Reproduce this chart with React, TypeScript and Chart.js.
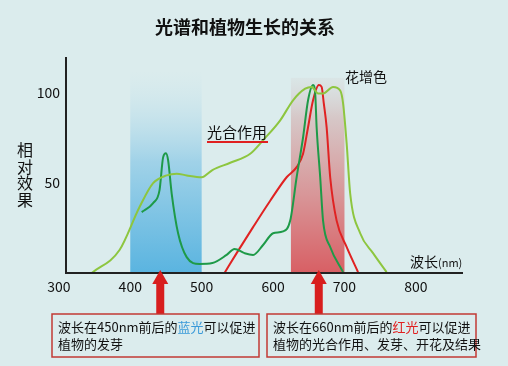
import React, { useEffect, useRef } from 'react';
import { Chart, registerables } from 'chart.js';

Chart.register(...registerables);

const FONT = '"Noto Sans CJK SC", "Noto Sans", sans-serif';

// ---- data ----
const TITLE = '光谱和植物生长的关系';
const xTicks = [300, 400, 500, 600, 700, 800];
const yTicks = [50, 100];

const lightGreenNm = [346, 385, 413, 432, 451, 465, 479, 500, 515, 540, 568, 586, 610, 628, 645, 654, 663, 670, 684, 694, 698, 703, 708, 722, 740, 759];
const lightGreenVal = [0, 12.7, 36.5, 49.7, 54, 55, 54, 53, 57, 61, 66, 73.5, 84.5, 95.6, 102, 103, 99.4, 99.4, 103, 101, 94, 72, 44, 22, 11, 0.5];

const darkGreenNm = [416, 432, 441, 446, 450, 453, 458, 467, 479, 497, 515, 535, 546, 560, 572, 586, 600, 614, 624, 633, 642, 649, 656, 659, 661, 666, 670, 680, 698];
const darkGreenVal = [33.7, 38.7, 45.9, 64, 66.3, 62.4, 44, 22, 8.8, 5, 5.5, 10, 13.3, 11, 10, 15.5, 22, 23, 29, 53, 75, 95.6, 104, 99.4, 80.7, 53, 29, 14.4, 0.5];

const redNm = [532, 549, 572, 596, 619, 633, 642, 649, 656, 664, 668, 671, 675, 680, 689, 703, 719];
const redVal = [0, 11, 25.4, 40, 53, 58.6, 66, 80.7, 95.6, 104, 103, 94, 80.7, 53, 29, 14.4, 0.5];

const blueBand = [400, 500];
const redBand = [625, 700];
const arrowNm = [442, 664];

const BG = '#dbeced';

function pts(xs: number[], ys: number[]) {
  return xs.map((x, i) => ({ x, y: ys[i] }));
}

const decor = {
  id: 'decor',
  beforeDraw(chart: any) {
    const { ctx, width, height } = chart;
    ctx.save();
    ctx.fillStyle = BG;
    ctx.fillRect(0, 0, width, height);
    ctx.restore();
  },
  beforeDatasetsDraw(chart: any) {
    const { ctx, scales } = chart;
    const xs = scales.x, ys = scales.y;
    const bottom = ys.getPixelForValue(0);
    ctx.save();
    // blue band
    let l = xs.getPixelForValue(blueBand[0]);
    let r = xs.getPixelForValue(blueBand[1]);
    let top = ys.getPixelForValue(112);
    let g = ctx.createLinearGradient(0, top, 0, bottom);
    g.addColorStop(0, 'rgba(200,228,236,0)');
    g.addColorStop(0.45, 'rgba(160,210,232,1)');
    g.addColorStop(1, 'rgba(90,180,224,1)');
    ctx.fillStyle = g;
    ctx.fillRect(l, top, r - l, bottom - top);
    // red band
    l = xs.getPixelForValue(redBand[0]);
    r = xs.getPixelForValue(redBand[1]);
    top = ys.getPixelForValue(108);
    g = ctx.createLinearGradient(0, top, 0, bottom);
    g.addColorStop(0, 'rgba(215,215,215,0.3)');
    g.addColorStop(0.2, 'rgba(214,200,200,1)');
    g.addColorStop(0.6, 'rgba(216,150,152,1)');
    g.addColorStop(1, 'rgba(216,95,100,1)');
    ctx.fillStyle = g;
    ctx.fillRect(l, top, r - l, bottom - top);
    ctx.restore();
  },
  afterDatasetsDraw(chart: any) {
    const { ctx, scales, chartArea } = chart;
    const xs = scales.x, ys = scales.y;
    const y0 = ys.getPixelForValue(0);
    ctx.save();
    // axes
    ctx.strokeStyle = '#222';
    ctx.lineWidth = 2;
    ctx.beginPath();
    ctx.moveTo(chartArea.left, chartArea.top - 1);
    ctx.lineTo(chartArea.left, y0);
    ctx.lineTo(chartArea.right, y0);
    ctx.stroke();

    // tick labels
    ctx.fillStyle = '#111';
    ctx.font = `14px ${FONT}`;
    ctx.textAlign = 'center';
    ctx.textBaseline = 'middle';
    xTicks.forEach((t) => {
      ctx.fillText(String(t), xs.getPixelForValue(t), y0 + 14);
    });
    ctx.textAlign = 'right';
    yTicks.forEach((t) => {
      ctx.fillText(String(t), chartArea.left - 6, ys.getPixelForValue(t));
    });

    // y axis title (vertical stacked)
    ctx.font = `16px ${FONT}`;
    ctx.textAlign = 'center';
    ['相', '对', '效', '果'].forEach((c, i) => {
      ctx.fillText(c, 25, 150 + i * 16.5);
    });

    // x axis unit
    ctx.textAlign = 'left';
    ctx.font = `14px ${FONT}`;
    ctx.fillText('波长', 410, 262);
    const w = ctx.measureText('波长').width;
    ctx.font = `11px ${FONT}`;
    ctx.fillText('(nm)', 410 + w, 263);

    // title
    ctx.textAlign = 'center';
    ctx.font = `bold 18px ${FONT}`;
    ctx.fillText(TITLE, 245, 27);

    // curve labels
    ctx.font = `14px ${FONT}`;
    ctx.textAlign = 'left';
    ctx.fillText('花增色', 345, 77);
    ctx.font = `15px ${FONT}`;
    ctx.fillText('光合作用', 207, 132);
    ctx.strokeStyle = '#e02020';
    ctx.lineWidth = 2;
    ctx.beginPath();
    ctx.moveTo(207, 142);
    ctx.lineTo(268, 142);
    ctx.stroke();

    // arrows
    ctx.fillStyle = '#d81e1e';
    arrowNm.forEach((nm) => {
      const cx = xs.getPixelForValue(nm);
      ctx.beginPath();
      ctx.moveTo(cx, y0 - 3);
      ctx.lineTo(cx - 8, y0 + 11);
      ctx.lineTo(cx + 8, y0 + 11);
      ctx.closePath();
      ctx.fill();
      ctx.fillRect(cx - 4, y0 + 10, 8, 314 - (y0 + 10));
    });

    // boxes
    const boxes = [
      { x: 52, w: 207, lines: [[['波长在450nm前后的', '#111'], ['蓝光', '#3a9ad9'], ['可以促进', '#111']], [['植物的发芽', '#111']]] },
      { x: 267, w: 209, lines: [[['波长在660nm前后的', '#111'], ['红光', '#e02020'], ['可以促进', '#111']], [['植物的光合作用、发芽、开花及结果', '#111']]] },
    ];
    ctx.font = `13px ${FONT}`;
    ctx.textAlign = 'left';
    boxes.forEach((b) => {
      ctx.strokeStyle = '#c23a34';
      ctx.lineWidth = 1.5;
      ctx.strokeRect(b.x, 314, b.w, 43);
      b.lines.forEach((line, li) => {
        let x = b.x + 6;
        const y = 327 + li * 17;
        line.forEach(([txt, col]) => {
          ctx.fillStyle = col;
          ctx.fillText(txt, x, y);
          x += ctx.measureText(txt).width;
        });
      });
    });
    ctx.restore();
  },
};

export default function App() {
  const ref = useRef<HTMLCanvasElement | null>(null);
  useEffect(() => {
    if (!ref.current) return;
    const common = {
      showLine: true,
      pointRadius: 0,
      borderWidth: 2,
      cubicInterpolationMode: 'monotone' as const,
      fill: false,
    };
    const chart = new Chart(ref.current, {
      type: 'scatter',
      data: {
        datasets: [
          { ...common, label: '花增色', data: pts(lightGreenNm, lightGreenVal), borderColor: '#8dc63f' },
          { ...common, label: '叶绿素', data: pts(darkGreenNm, darkGreenVal), borderColor: '#1e9a48' },
          { ...common, label: '光合作用', data: pts(redNm, redVal), borderColor: '#e02222' },
        ],
      },
      options: {
        animation: false,
        responsive: true,
        maintainAspectRatio: false,
        layout: { padding: { left: 66, right: 45, top: 58, bottom: 93 } },
        plugins: { legend: { display: false }, tooltip: { enabled: false }, title: { display: false } },
        scales: {
          x: { type: 'linear', min: 310, max: 866, display: false },
          y: { type: 'linear', min: 0, max: 119, display: false },
        },
      },
      plugins: [decor],
    });
    return () => chart.destroy();
  }, []);
  return (
    <div style={{ position: 'fixed', left: 0, top: 0, width: 508, height: 366, background: BG }}>
      <canvas ref={ref} />
    </div>
  );
}
